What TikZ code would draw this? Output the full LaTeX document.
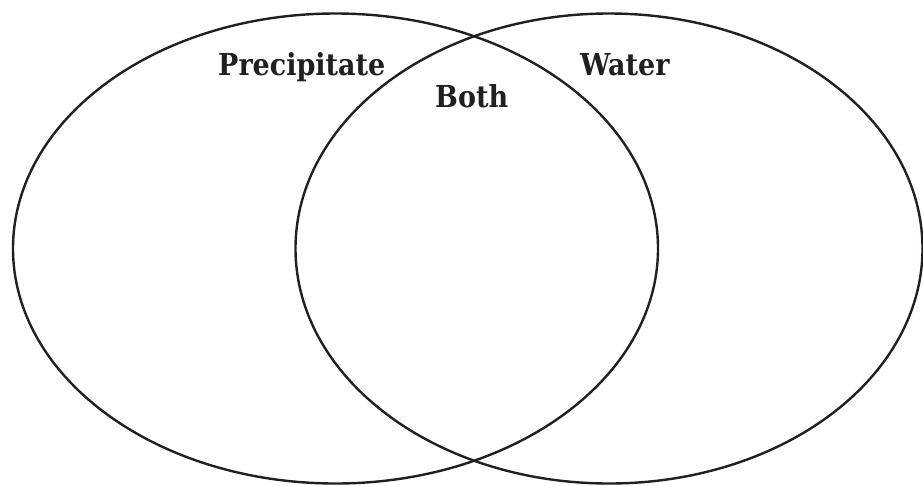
\documentclass[tikz,border=0pt]{standalone}
\usepackage{fontspec}
\usepackage{graphicx}
\setmainfont{DejaVu Serif}
\definecolor{ink}{HTML}{231F20}
\newcommand{\tallbold}[1]{\scalebox{1}[1.12]{#1}}
\begin{document}
\begin{tikzpicture}[x=1pt,y=-1pt,
  ring/.style={draw=ink,line width=2.4pt},
  lbl/.style={text=ink,inner sep=0pt,anchor=base west,font=\bfseries\fontsize{27}{30}\selectfont}]
\useasboundingbox (0,0) rectangle (923,485);
\draw[ring] (335.5,248.5) ellipse [x radius=322.5, y radius=235];
\draw[ring] (609,248.5) ellipse [x radius=313.5, y radius=235];
\node[lbl] (prec) at (218,75) {\tallbold{Precipitate}};
\node[lbl] (water) at (580,75) {\tallbold{Water}};
\node[lbl] (both) at (435,107) {\tallbold{Both}};
\end{tikzpicture}
\end{document}
